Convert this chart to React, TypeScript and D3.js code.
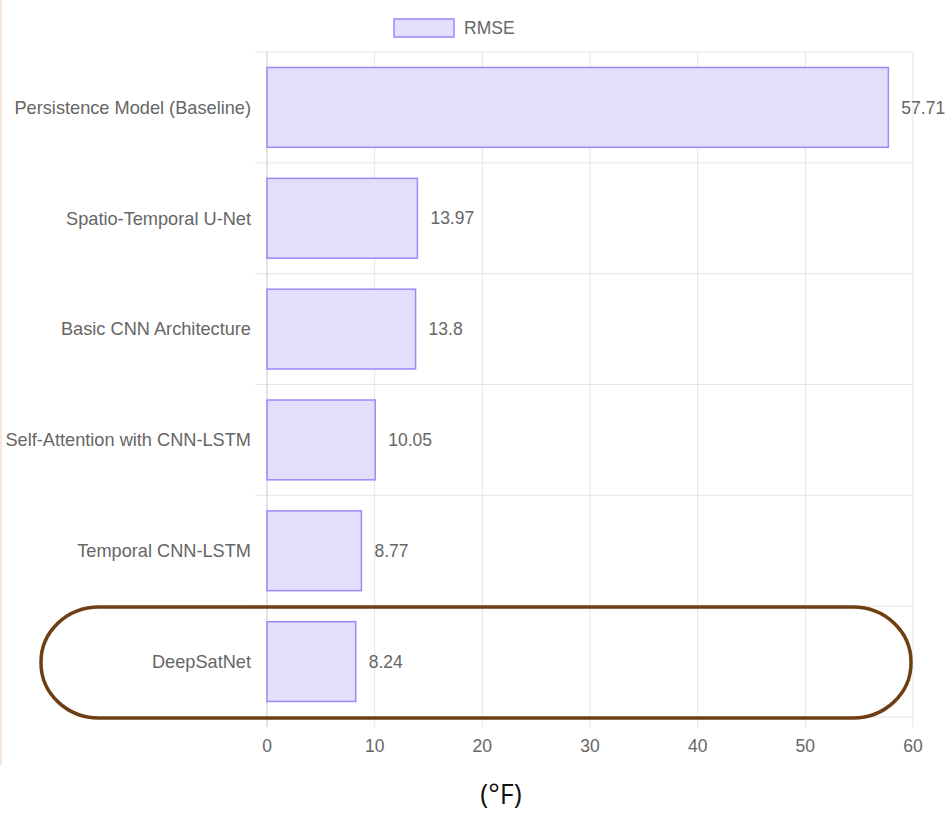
import React from "react";
import * as d3 from "d3";

const categories = [
  "Persistence Model (Baseline)",
  "Spatio-Temporal U-Net",
  "Basic CNN Architecture",
  "Self-Attention with CNN-LSTM",
  "Temporal CNN-LSTM",
  "DeepSatNet",
];
const rmseValues = [57.71, 13.97, 13.8, 10.05, 8.77, 8.24];
const xTicks = [0, 10, 20, 30, 40, 50, 60];
const seriesName = "RMSE";
const unitLabel = "(°F)";

const W = 947;
const H = 815;
const left = 267;
const right = 913;
const top = 52;
const bottom = 717;

export default function App() {
  const x = d3.scaleLinear().domain([0, 60]).range([left, right]);
  const y = d3.scaleBand<string>().domain(categories).range([top, bottom]).paddingInner(0).paddingOuter(0);
  const bw = y.bandwidth();
  const barH = bw * 0.72;
  const font = "'Liberation Sans', Arial, Helvetica, sans-serif";
  const fs = 17.5;
  const grid = "#e5e5e5";
  const txt = "#666";
  const boundaries = categories.map((c) => y(c)!).concat([bottom]);
  return (
    <svg width={W} height={H} style={{ position: "absolute", left: 0, top: 0, background: "#fff" }}>
      <rect x={0} y={0} width={2} height={765} fill="#f7e7da" />
      {boundaries.map((b, i) => (
        <line key={"h" + i} x1={255} x2={right} y1={b} y2={b} stroke={grid} strokeWidth={1} />
      ))}
      {xTicks.map((t) => (
        <line key={"v" + t} x1={x(t)} x2={x(t)} y1={top} y2={bottom + 10} stroke={t === 0 ? "#d8d8d8" : grid} strokeWidth={t === 0 ? 1.5 : 1} />
      ))}
      {categories.map((c, i) => {
        const yc = y(c)! + bw / 2;
        return (
          <g key={c}>
            <rect
              x={x(0)}
              y={yc - barH / 2}
              width={x(rmseValues[i]) - x(0)}
              height={barH}
              fill="#e4defd"
              stroke="#a086f9"
              strokeWidth={1.5}
            />
            <text x={x(rmseValues[i]) + 13} y={yc} dy="0.35em" fontFamily={font} fontSize={fs} fill={txt}>
              {rmseValues[i]}
            </text>
            <text x={251} y={yc} dy="0.35em" textAnchor="end" fontFamily={font} fontSize={18.2} fill={txt}>
              {c}
            </text>
          </g>
        );
      })}
      {xTicks.map((t) => (
        <text key={"t" + t} x={x(t)} y={746} dy="0.35em" textAnchor="middle" fontFamily={font} fontSize={fs} fill={txt}>
          {t}
        </text>
      ))}
      <rect x={394} y={19} width={60} height={18} fill="#e4defd" stroke="#a086f9" strokeWidth={1.5} />
      <text x={464} y={28} dy="0.35em" fontFamily={font} fontSize={fs} fill={txt}>
        {seriesName}
      </text>
      <rect x={41} y={607} width={870} height={111} rx={58} ry={55} fill="none" stroke="#6e3f14" strokeWidth={3.5} />
      <text x={501} y={795} dy="0.35em" textAnchor="middle" fontFamily="'Open Sans', 'DejaVu Sans', sans-serif" fontSize={27} fill="#111">
        {unitLabel}
      </text>
    </svg>
  );
}
